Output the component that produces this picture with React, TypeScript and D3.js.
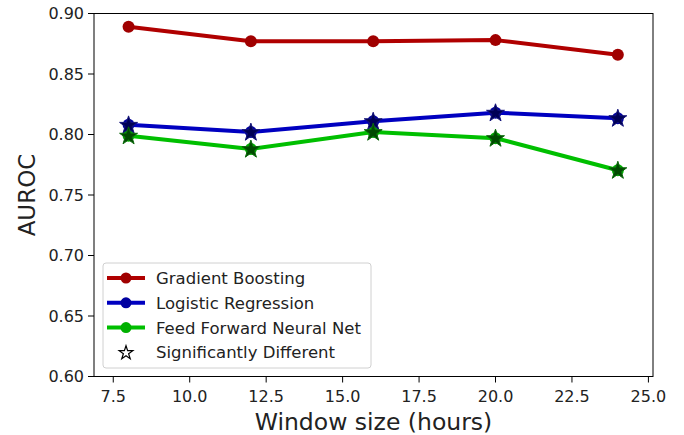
import * as d3 from 'd3';
import React from 'react';

const windows = [8, 12, 16, 20, 24];
const gradientBoosting = [0.889, 0.877, 0.877, 0.878, 0.866];
const logisticRegression = [0.808, 0.802, 0.811, 0.818, 0.8135];
const feedForward = [0.799, 0.788, 0.802, 0.797, 0.7705];
const yTicks = [0.6, 0.65, 0.7, 0.75, 0.8, 0.85, 0.9];
const xTicks = [7.5, 10, 12.5, 15, 17.5, 20, 22.5, 25];
const legendLabels = [
	'Gradient Boosting',
	'Logistic Regression',
	'Feed Forward Neural Net',
	'Significantly Different',
];

const width = 684;
const height = 435;
const margin = { top: 13.5, right: 31, bottom: 58.5, left: 94 };
const font = 'DejaVu Sans, sans-serif';

const series = [
	{ name: legendLabels[0], values: gradientBoosting, color: '#b00000', dot: '#a00000', star: null },
	{ name: legendLabels[1], values: logisticRegression, color: '#0000c0', dot: '#0000a0', star: { fill: '#000055', stroke: '#12127a' } },
	{ name: legendLabels[2], values: feedForward, color: '#00bf00', dot: '#00b000', star: { fill: '#004a00', stroke: '#0b6a0b' } },
];

const App = () => {
	const innerWidth = width - margin.left - margin.right;
	const innerHeight = height - margin.top - margin.bottom;

	const xScale = d3.scaleLinear().domain([6.87, 25.15]).range([0, innerWidth]);
	const yScale = d3.scaleLinear().domain([0.6, 0.9]).range([innerHeight, 0]);

	const line = d3
		.line<number>()
		.x((_, i) => xScale(windows[i]))
		.y(d => yScale(d));

	const starPath = d3.symbol(d3.symbolStar, 100)() || '';
	const legendStar = d3.symbol(d3.symbolStar, 58)() || '';

	return (
		<svg
			width={width}
			height={height}
			style={{ position: 'absolute', left: 0, top: 0, background: '#fff' }}
			fontFamily={font}
		>
			<g transform={`translate(${margin.left},${margin.top})`}>
				{/* y axis ticks */}
				{yTicks.map(t => (
					<g key={t} transform={`translate(0,${yScale(t)})`}>
						<line x1={-6} x2={0} stroke="#000" strokeWidth={1} />
						<text x={-10} dy="0.36em" textAnchor="end" fontSize={16} fill="#222">
							{t.toFixed(2)}
						</text>
					</g>
				))}
				{xTicks.map(t => (
					<g key={t} transform={`translate(${xScale(t)},${innerHeight})`}>
						<line y1={0} y2={6} stroke="#000" strokeWidth={1} />
						<text y={25} textAnchor="middle" fontSize={16} fill="#222">
							{t.toFixed(1)}
						</text>
					</g>
				))}

				{series.map(s => (
					<g key={s.name}>
						<path d={line(s.values) || ''} fill="none" stroke={s.color} strokeWidth={4} strokeLinejoin="round" />
						{s.values.map((v, i) => (
							<circle key={i} cx={xScale(windows[i])} cy={yScale(v)} r={6} fill={s.dot} />
						))}
					</g>
				))}
				{series.map(s =>
					s.star
						? s.values.map((v, i) => (
								<path
									key={s.name + i}
									d={starPath}
									transform={`translate(${xScale(windows[i])},${yScale(v) + 0.5})`}
									fill={s.star!.fill}
									stroke={s.star!.stroke}
									strokeWidth={1}
								/>
						  ))
						: null
				)}

				<rect x={0} y={0} width={innerWidth} height={innerHeight} fill="none" stroke="#000" strokeWidth={1} />

				{/* legend */}
				<g transform="translate(9,249.5)">
					<rect x={0} y={0} width={268} height={105} rx={3} fill="#fff" fillOpacity={0.8} stroke="#d0d0d0" />
					{legendLabels.map((label, i) => {
						const cy = 15 + i * 24.8;
						const s = series[i];
						return (
							<g key={label} transform={`translate(0,${cy})`}>
								{s ? (
									<>
										<line x1={4} x2={42} stroke={s.color} strokeWidth={4} />
										<circle cx={23} cy={0} r={5.5} fill={s.dot} />
									</>
								) : (
									<path d={legendStar} transform="translate(23,0.5)" fill="#fff" stroke="#000" strokeWidth={1.2} />
								)}
								<text x={53} dy="0.36em" fontSize={16.5} fill="#222">
									{label}
								</text>
							</g>
						);
					})}
				</g>
			</g>

			<text
				x={margin.left + innerWidth / 2}
				y={430}
				textAnchor="middle"
				fontSize={23.5}
				fill="#222"
			>
				Window size (hours)
			</text>
			<text
				transform={`translate(35,${margin.top + innerHeight / 2}) rotate(-90)`}
				textAnchor="middle"
				fontSize={23}
				fill="#222"
			>
				AUROC
			</text>
		</svg>
	);
};

export default App;
